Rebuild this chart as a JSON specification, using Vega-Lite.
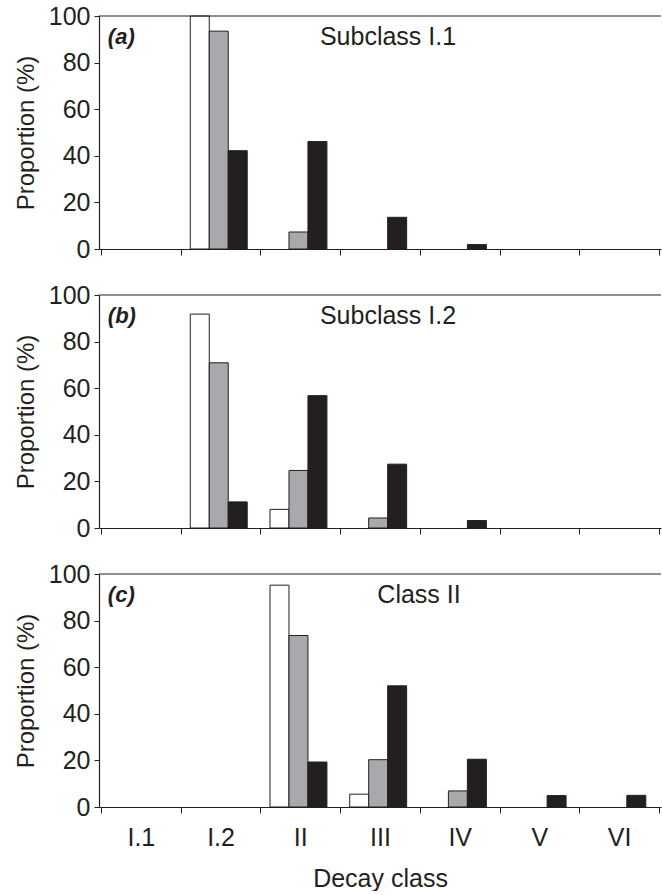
{
  "$schema": "https://vega.github.io/schema/vega-lite/v6.json",
  "padding": {"left": 14, "top": 4, "right": 0, "bottom": 0},
  "bounds": "flush",
  "spacing": 46,
  "config": {
    "view": {"stroke": null},
    "font": "Liberation Sans",
    "axis": {"labelColor": "#231f20", "titleColor": "#231f20", "domainColor": "#231f20", "tickColor": "#231f20", "grid": false, "labelFont": "Liberation Sans", "titleFont": "Liberation Sans", "titleFontWeight": "normal"}
  },
  "datasets": {
    "bars": [
      {"panel": "a", "decay": "I.2", "series": "white", "value": 100},
      {"panel": "a", "decay": "I.2", "series": "gray", "value": 93.5},
      {"panel": "a", "decay": "I.2", "series": "black", "value": 42.2},
      {"panel": "a", "decay": "II", "series": "gray", "value": 7.3},
      {"panel": "a", "decay": "II", "series": "black", "value": 46.1},
      {"panel": "a", "decay": "III", "series": "black", "value": 13.6},
      {"panel": "a", "decay": "IV", "series": "black", "value": 1.9},
      {"panel": "b", "decay": "I.2", "series": "white", "value": 91.8},
      {"panel": "b", "decay": "I.2", "series": "gray", "value": 70.9},
      {"panel": "b", "decay": "I.2", "series": "black", "value": 11.2},
      {"panel": "b", "decay": "II", "series": "white", "value": 8.0},
      {"panel": "b", "decay": "II", "series": "gray", "value": 24.7},
      {"panel": "b", "decay": "II", "series": "black", "value": 56.8},
      {"panel": "b", "decay": "III", "series": "gray", "value": 4.3},
      {"panel": "b", "decay": "III", "series": "black", "value": 27.4},
      {"panel": "b", "decay": "IV", "series": "black", "value": 3.2},
      {"panel": "c", "decay": "II", "series": "white", "value": 95.2},
      {"panel": "c", "decay": "II", "series": "gray", "value": 73.6},
      {"panel": "c", "decay": "II", "series": "black", "value": 19.3},
      {"panel": "c", "decay": "III", "series": "white", "value": 5.5},
      {"panel": "c", "decay": "III", "series": "gray", "value": 20.3},
      {"panel": "c", "decay": "III", "series": "black", "value": 52.0},
      {"panel": "c", "decay": "IV", "series": "gray", "value": 6.9},
      {"panel": "c", "decay": "IV", "series": "black", "value": 20.5},
      {"panel": "c", "decay": "V", "series": "black", "value": 4.9},
      {"panel": "c", "decay": "VI", "series": "black", "value": 5.0}
    ],
    "one": [{"k": 1}]
  },
  "vconcat": [
    {
      "width": 562, "height": 233,
      "layer": [
        {
          "data": {"name": "bars"},
          "transform": [{"filter": "datum.panel === 'a'"}],
          "mark": {"type": "bar", "stroke": "#231f20", "strokeWidth": 1},
          "encoding": {
            "x": {"field": "decay", "type": "nominal", "scale": {"domain": ["I.1", "I.2", "II", "III", "IV", "V", "VI"], "paddingInner": 0, "paddingOuter": 0.025}, "axis": {"labels": false, "title": null, "tickBand": "extent", "tickSize": 6, "domainWidth": 1.2}},
            "xOffset": {"field": "series", "scale": {"domain": ["white", "gray", "black"], "paddingInner": 0, "paddingOuter": 0.6, "align": 0.42}},
            "y": {"field": "value", "type": "quantitative", "scale": {"domain": [0, 100], "nice": false}, "axis": {"values": [0, 10, 20, 30, 40, 50, 60, 70, 80, 90, 100], "labelExpr": "datum.value % 20 === 0 ? datum.label : ''", "tickSize": 5, "labelFontSize": 25, "labelPadding": 4, "title": "Proportion (%)", "titleFontSize": 24, "titlePadding": 10, "domainWidth": 1.2}},
            "fill": {"field": "series", "type": "nominal", "scale": {"domain": ["white", "gray", "black"], "range": ["#ffffff", "#a7a9ac", "#231f20"]}, "legend": null}
          }
        },
        {"data": {"name": "one"}, "mark": {"type": "rule", "color": "#231f20", "strokeWidth": 1.2}, "encoding": {"y": {"datum": 100}}},
        {"data": {"name": "one"}, "mark": {"type": "text", "text": "(a)", "fontSize": 22, "fontWeight": "bold", "fontStyle": "italic", "align": "left", "baseline": "middle", "dx": -33, "color": "#231f20"}, "encoding": {"x": {"datum": "I.1"}, "y": {"datum": 91}}},
        {"data": {"name": "one"}, "mark": {"type": "text", "text": "Subclass I.1", "fontSize": 25, "align": "center", "baseline": "middle", "dx": 8, "color": "#231f20"}, "encoding": {"x": {"datum": "III"}, "y": {"datum": 91}}}
      ]
    },
    {
      "width": 562, "height": 233,
      "layer": [
        {
          "data": {"name": "bars"},
          "transform": [{"filter": "datum.panel === 'b'"}],
          "mark": {"type": "bar", "stroke": "#231f20", "strokeWidth": 1},
          "encoding": {
            "x": {"field": "decay", "type": "nominal", "scale": {"domain": ["I.1", "I.2", "II", "III", "IV", "V", "VI"], "paddingInner": 0, "paddingOuter": 0.025}, "axis": {"labels": false, "title": null, "tickBand": "extent", "tickSize": 6, "domainWidth": 1.2}},
            "xOffset": {"field": "series", "scale": {"domain": ["white", "gray", "black"], "paddingInner": 0, "paddingOuter": 0.6, "align": 0.42}},
            "y": {"field": "value", "type": "quantitative", "scale": {"domain": [0, 100], "nice": false}, "axis": {"values": [0, 10, 20, 30, 40, 50, 60, 70, 80, 90, 100], "labelExpr": "datum.value % 20 === 0 ? datum.label : ''", "tickSize": 5, "labelFontSize": 25, "labelPadding": 4, "title": "Proportion (%)", "titleFontSize": 24, "titlePadding": 10, "domainWidth": 1.2}},
            "fill": {"field": "series", "type": "nominal", "scale": {"domain": ["white", "gray", "black"], "range": ["#ffffff", "#a7a9ac", "#231f20"]}, "legend": null}
          }
        },
        {"data": {"name": "one"}, "mark": {"type": "rule", "color": "#231f20", "strokeWidth": 1.2}, "encoding": {"y": {"datum": 100}}},
        {"data": {"name": "one"}, "mark": {"type": "text", "text": "(b)", "fontSize": 22, "fontWeight": "bold", "fontStyle": "italic", "align": "left", "baseline": "middle", "dx": -33, "color": "#231f20"}, "encoding": {"x": {"datum": "I.1"}, "y": {"datum": 91}}},
        {"data": {"name": "one"}, "mark": {"type": "text", "text": "Subclass I.2", "fontSize": 25, "align": "center", "baseline": "middle", "dx": 8, "color": "#231f20"}, "encoding": {"x": {"datum": "III"}, "y": {"datum": 91}}}
      ]
    },
    {
      "width": 562, "height": 233,
      "layer": [
        {
          "data": {"name": "bars"},
          "transform": [{"filter": "datum.panel === 'c'"}],
          "mark": {"type": "bar", "stroke": "#231f20", "strokeWidth": 1},
          "encoding": {
            "x": {"field": "decay", "type": "nominal", "scale": {"domain": ["I.1", "I.2", "II", "III", "IV", "V", "VI"], "paddingInner": 0, "paddingOuter": 0.025}, "axis": {"labelAngle": 0, "labelFontSize": 25, "labelPadding": 12, "title": "Decay class", "titleFontSize": 25, "titlePadding": 16, "tickBand": "extent", "tickSize": 6, "domainWidth": 1.2}},
            "xOffset": {"field": "series", "scale": {"domain": ["white", "gray", "black"], "paddingInner": 0, "paddingOuter": 0.6, "align": 0.42}},
            "y": {"field": "value", "type": "quantitative", "scale": {"domain": [0, 100], "nice": false}, "axis": {"values": [0, 10, 20, 30, 40, 50, 60, 70, 80, 90, 100], "labelExpr": "datum.value % 20 === 0 ? datum.label : ''", "tickSize": 5, "labelFontSize": 25, "labelPadding": 4, "title": "Proportion (%)", "titleFontSize": 24, "titlePadding": 10, "domainWidth": 1.2}},
            "fill": {"field": "series", "type": "nominal", "scale": {"domain": ["white", "gray", "black"], "range": ["#ffffff", "#a7a9ac", "#231f20"]}, "legend": null}
          }
        },
        {"data": {"name": "one"}, "mark": {"type": "rule", "color": "#231f20", "strokeWidth": 1.2}, "encoding": {"y": {"datum": 100}}},
        {"data": {"name": "one"}, "mark": {"type": "text", "text": "(c)", "fontSize": 22, "fontWeight": "bold", "fontStyle": "italic", "align": "left", "baseline": "middle", "dx": -33, "color": "#231f20"}, "encoding": {"x": {"datum": "I.1"}, "y": {"datum": 91}}},
        {"data": {"name": "one"}, "mark": {"type": "text", "text": "Class II", "fontSize": 25, "align": "center", "baseline": "middle", "dx": 39, "color": "#231f20"}, "encoding": {"x": {"datum": "III"}, "y": {"datum": 91}}}
      ]
    }
  ]
}
